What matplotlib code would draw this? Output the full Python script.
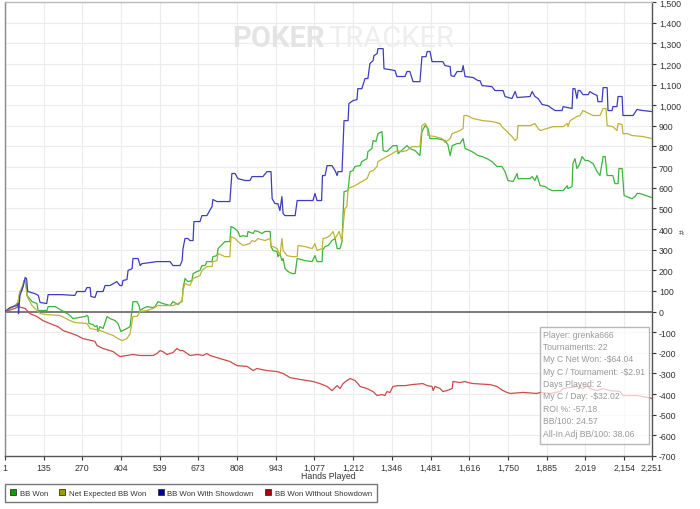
import numpy as np
import matplotlib
matplotlib.use("Agg")
import matplotlib.pyplot as plt
from matplotlib.lines import Line2D
from matplotlib.ticker import FuncFormatter

plt.rcParams["font.family"] = ["Liberation Sans", "DejaVu Sans"]

# hands played / cumulative big blinds
blue_hands = [1, 18, 42, 47, 48, 53, 65, 71, 76, 80, 105, 117, 123, 146, 151, 199, 244, 251, 279, 286,
              297, 300, 314, 321, 342, 349, 366, 390, 401, 408, 411, 425, 429, 443, 446, 464, 471, 477,
              530, 575, 585, 610, 617, 620, 627, 637, 644, 655, 658, 679, 686, 703, 721, 724, 738, 783,
              790, 801, 811, 836, 853, 860, 898, 912, 926, 930, 940, 950, 957, 964, 968, 975, 1010, 1017,
              1072, 1079, 1086, 1102, 1105, 1114, 1121, 1138, 1149, 1156, 1159, 1173, 1180, 1194, 1197,
              1211, 1225, 1228, 1242, 1253, 1263, 1270, 1281, 1284, 1295, 1298, 1316, 1319, 1357, 1364,
              1392, 1399, 1409, 1420, 1444, 1451, 1465, 1469, 1479, 1486, 1524, 1531, 1549, 1552, 1563,
              1573, 1590, 1594, 1601, 1629, 1646, 1653, 1660, 1694, 1705, 1733, 1740, 1764, 1775, 1782,
              1827, 1834, 1844, 1855, 1869, 1889, 1903, 1914, 1938, 1942, 1973, 1976, 1983, 1990, 1994,
              2001, 2011, 2029, 2035, 2046, 2060, 2063, 2077, 2081, 2095, 2098, 2112, 2115, 2129, 2133,
              2147, 2150, 2185, 2199, 2220, 2251]
blue_vals = [0, 19, 29, 39, -10, 78, 126, 165, 160, 97, 87, 78, 44, 39, 82, 82, 78, 97, 97, 116,
             116, 73, 68, 97, 97, 126, 126, 145, 126, 126, 150, 155, 199, 208, 257, 257, 223, 232,
             242, 242, 223, 223, 247, 305, 354, 354, 344, 344, 436, 436, 465, 465, 509, 543, 533, 533,
             669, 669, 644, 635, 635, 654, 654, 678, 678, 547, 523, 523, 489, 557, 475, 465, 465, 538,
             538, 572, 538, 538, 659, 659, 707, 707, 683, 659, 678, 678, 925, 925, 1008,
             1022, 1027, 1080, 1080, 1129, 1129, 1202, 1216, 1240, 1250, 1274, 1274, 1177, 1168, 1139,
             1139, 1163, 1163, 1114, 1114, 1235, 1235, 1260, 1260, 1211, 1211, 1192, 1187, 1143, 1139,
             1163, 1163, 1192, 1139, 1134, 1119, 1119, 1095, 1090, 1071, 1071, 1042, 1032, 1066, 1037,
             1042, 1066, 1042, 1032, 1003, 998, 984, 974, 974, 993, 984, 1080, 1080, 1032, 1071,
             1071, 1051, 1051, 1066, 1056, 1047, 1017, 1017, 1085, 1085, 974, 974, 993, 993, 1042,
             1042, 950, 950, 979, 974, 969]

green_hands = [1, 18, 36, 46, 53, 60, 67, 74, 78, 95, 112, 116, 147, 151, 175, 199, 217, 227, 237, 279,
               286, 290, 293, 307, 314, 321, 324, 331, 342, 356, 366, 384, 394, 404, 411, 425, 436, 446,
               460, 467, 471, 481, 495, 516, 523, 533, 550, 575, 585, 603, 617, 620, 627, 637, 651, 655,
               669, 679, 686, 697, 703, 721, 724, 738, 742, 766, 783, 787, 801, 811, 818, 829, 843, 846,
               864, 870, 881, 895, 905, 923, 926, 933, 947, 950, 957, 964, 968, 975, 985, 999, 1010, 1017,
               1044, 1069, 1079, 1086, 1104, 1105, 1114, 1125, 1138, 1149, 1156, 1166, 1173, 1180, 1194,
               1201, 1211, 1218, 1236, 1242, 1260, 1263, 1277, 1281, 1291, 1298, 1312, 1316, 1329, 1350,
               1364, 1368, 1399, 1409, 1427, 1444, 1451, 1462, 1472, 1479, 1503, 1531, 1541, 1549, 1556,
               1573, 1583, 1594, 1601, 1625, 1646, 1660, 1677, 1694, 1712, 1729, 1740, 1750, 1768, 1782,
               1785, 1827, 1834, 1844, 1851, 1862, 1879, 1889, 1903, 1942, 1956, 1959, 1973, 1976, 1983,
               1990, 1997, 2008, 2018, 2029, 2046, 2060, 2070, 2081, 2088, 2095, 2115, 2122, 2133, 2136,
               2147, 2154, 2181, 2192, 2199, 2209, 2251]
green_vals = [0, 15, 29, 44, 97, 102, 150, 136, 78, 48, 39, 5, 5, 24, 24, 5, -10, -19, -34, -24,
              -19, -24, -58, -63, -73, -68, -97, -73, -82, -24, -34, -44, -58, -97, -92, -82, -73, 48,
              48, 29, 5, 15, 24, 19, 24, 48, 39, 29, 48, 34, 53, 111, 160, 145, 150, 184,
              194, 199, 223, 223, 242, 242, 266, 271, 305, 339, 339, 412, 402, 388, 363, 368, 363, 388,
              378, 392, 388, 378, 388, 388, 315, 296, 291, 266, 281, 247, 257, 208, 194, 184, 184, 257,
              247, 242, 271, 242, 242, 296, 315, 320, 344, 354, 305, 305, 339, 581, 586,
              678, 683, 703, 707, 727, 741, 775, 790, 829, 824, 862, 872, 780, 775, 804,
              804, 765, 804, 790, 780, 756, 872, 901, 887, 838, 838, 829, 809, 756, 804,
              814, 814, 838, 790, 775, 756, 751, 741, 727, 703, 703, 678, 635, 630, 669,
              644, 644, 654, 635, 659, 610, 606, 596, 586, 586, 610, 596, 606, 717, 741,
              693, 707, 751, 732, 732, 717, 678, 659, 751, 751, 659, 659, 620, 620, 693,
              693, 562, 547, 557, 572, 572, 552]

yellow_hands = [1, 18, 36, 46, 53, 71, 78, 95, 112, 123, 147, 192, 199, 227, 244, 286, 297, 331, 342, 359,
                377, 394, 408, 425, 436, 443, 446, 460, 471, 495, 516, 533, 585, 617, 620, 627, 644, 655,
                679, 686, 703, 721, 724, 738, 742, 766, 783, 787, 801, 811, 829, 853, 860, 870, 881, 905,
                923, 926, 933, 947, 957, 964, 968, 982, 999, 1017, 1020, 1044, 1069, 1079, 1086, 1104,
                1107, 1121, 1131, 1142, 1149, 1163, 1173, 1177, 1183, 1190, 1194, 1218, 1242, 1260, 1270,
                1281, 1295, 1298, 1316, 1329, 1347, 1364, 1382, 1399, 1416, 1444, 1451, 1462, 1469, 1472,
                1496, 1521, 1531, 1549, 1556, 1583, 1594, 1597, 1608, 1629, 1663, 1698, 1722, 1729, 1747,
                1764, 1775, 1782, 1785, 1827, 1844, 1855, 1862, 1896, 1907, 1942, 1956, 1959, 1966, 1990,
                2001, 2011, 2025, 2046, 2070, 2081, 2091, 2095, 2115, 2129, 2133, 2147, 2150, 2167, 2181,
                2220, 2251]
yellow_vals = [0, 15, 29, 44, 97, 155, 73, 29, 5, -10, -15, -19, -24, -44, -53, -58, -82, -92, -97, -107,
               -116, -131, -141, -131, -107, -48, -24, -24, 0, 5, 15, 29, 29, 48, 102, 136, 126, 160,
               174, 199, 218, 218, 242, 247, 281, 266, 266, 363, 354, 339, 320, 330, 344, 339, 354, 344,
               354, 315, 315, 305, 271, 354, 296, 271, 266, 266, 320, 315, 305, 329, 296, 305,
               354, 359, 368, 388, 354, 388, 339, 417, 499, 509, 596, 610, 630, 644, 678,
               683, 703, 727, 741, 751, 765, 780, 775, 780, 799, 799, 901, 911, 896, 853,
               848, 838, 819, 838, 862, 877, 887, 950, 950, 935, 925, 920, 911, 896, 872,
               848, 829, 838, 901, 901, 911, 887, 877, 891, 896, 896, 911, 896, 925, 945,
               950, 974, 964, 950, 950, 984, 984, 901, 896, 877, 911, 906, 862, 862, 853,
               848, 838]

red_hands = [1, 36, 46, 71, 88, 112, 133, 157, 185, 203, 234, 251, 272, 304, 314, 321, 342, 377, 390, 401,
             425, 446, 471, 516, 530, 540, 550, 564, 575, 585, 599, 610, 620, 634, 644, 672, 690, 703,
             714, 749, 783, 808, 843, 864, 877, 912, 947, 968, 992, 1027, 1072, 1096, 1121, 1138, 1156,
             1166, 1177, 1190, 1201, 1218, 1228, 1236, 1260, 1281, 1295, 1312, 1322, 1329, 1340, 1350,
             1368, 1392, 1416, 1454, 1469, 1486, 1490, 1496, 1514, 1524, 1538, 1556, 1559, 1583, 1601,
             1611, 1629, 1688, 1712, 1722, 1733, 1747, 1757, 1803, 1851, 1862, 1896, 1931, 1942, 1966,
             1990, 2011, 2025, 2035, 2060, 2081, 2105, 2140, 2150, 2199, 2220, 2251]
red_vals = [0, 15, 24, 15, -10, -24, -44, -58, -73, -92, -107, -116, -131, -141, -145, -165, -179, -194, -208, -218,
            -213, -208, -213, -213, -203, -189, -194, -208, -203, -199, -179, -189, -189, -203, -213, -208, -213, -203,
            -213, -228, -242, -262, -266, -286, -276, -286, -291, -300, -320, -329, -339, -349, -363, -383, -359,
            -373, -349, -334, -325, -334, -349, -363, -373, -388, -407, -402, -407, -388, -392, -363,
            -359, -359, -354, -349, -359, -363, -383, -363, -373, -388, -383, -373, -339, -344, -339,
            -344, -349, -354, -363, -373, -383, -392, -397, -392, -397, -392, -397, -388, -373, -368,
            -363, -373, -359, -373, -383, -373, -383, -388, -407, -407, -412, -421]

x_ticks = [1, 135, 270, 404, 539, 673, 808, 943, 1077, 1212, 1346, 1481, 1616, 1750, 1885, 2019, 2154, 2251]
series_names = ["BB Won", "Net Expected BB Won", "BB Won With Showdown", "BB Won Without Showdown"]
line_colors = ["#3cb43c", "#bfb33a", "#3c3cc0", "#cc4a4a"]
marker_colors = ["#00a000", "#a09a00", "#0000a0", "#a00000"]
stats = ["Player: grenka666", "Tournaments: 22", "My C Net Won: -$64.04", "My C / Tournament: -$2.91",
         "Days Played: 2", "My C / Day: -$32.02", "ROI %: -57.18", "BB/100: 24.57", "All-In Adj BB/100: 38.06"]

W, H = 700, 510
fig = plt.figure(figsize=(7.0, 5.1), dpi=100)
fig.patch.set_facecolor("white")
ax = fig.add_axes([5 / W, 53 / H, 647 / W, 454 / H])

ax.set_xlim(1, 2251)
ax.set_ylim(-700, 1500)
ax.set_xticks(x_ticks)
ax.set_xticklabels([f"{t:,}" for t in x_ticks])
ax.set_yticks(np.arange(-700, 1501, 100))
ax.yaxis.set_major_formatter(FuncFormatter(lambda v, p: f"{int(v):,}"))
ax.yaxis.tick_right()
ax.tick_params(axis="both", labelsize=6.3, colors="#333333", length=3, width=0.8, pad=2)
ax.grid(True, color="#ececec", lw=0.8)
ax.set_axisbelow(True)
for side, col in [("left", "#888888"), ("top", "#bbbbbb"), ("right", "#555555"), ("bottom", "#555555")]:
    ax.spines[side].set_color(col)
    ax.spines[side].set_linewidth(1.0)

ax.axhline(0, color="#7a7a7a", lw=1.4, zorder=2)

# watermark
ax.text(320 / 647, 1 - 36 / 454, "POKER", transform=ax.transAxes, ha="right", va="center",
        fontsize=21, fontweight="bold", family="Roboto", color="#e4e4e4", zorder=1)
ax.text(323 / 647, 1 - 36 / 454, "TRACKER", transform=ax.transAxes, ha="left", va="center",
        fontsize=21, family="Roboto", color="#eeeeee", zorder=1)

ax.plot(red_hands, red_vals, color=line_colors[3], lw=0.9, zorder=3)
ax.plot(green_hands, green_vals, color=line_colors[0], lw=0.9, zorder=4)
ax.plot(yellow_hands, yellow_vals, color=line_colors[1], lw=0.9, zorder=4)
ax.plot(blue_hands, blue_vals, color=line_colors[2], lw=0.9, zorder=4)

# stats box
box = plt.Rectangle((540 / W, 1 - 445 / H), 109 / W, 117 / H, transform=fig.transFigure,
                    facecolor="white", alpha=0.7, edgecolor="#999999", lw=1.0, zorder=10)
fig.patches.append(box)
for i, s in enumerate(stats):
    fig.text(543 / W, 1 - (335 + i * 12.4) / H, s, fontsize=6.2,
             color="#999999", va="center", zorder=11)

fig.text(328 / W, 1 - 477 / H, "Hands Played", fontsize=6.3, color="#333333", ha="center", va="center")
fig.text(683 / W, 1 - 232 / H, "#", fontsize=6, color="#333333", rotation=90, ha="center", va="center")

handles = [Line2D([], [], ls="none", marker="s", markersize=5, markerfacecolor=c,
                  markeredgecolor="#333333", markeredgewidth=0.6) for c in marker_colors]
leg = fig.legend(handles, series_names, loc="lower left", bbox_to_anchor=(5 / W, 7 / H),
                 ncol=4, fontsize=5.6, frameon=True, fancybox=False, borderaxespad=0,
                 handlelength=0.7, handletextpad=0.5, columnspacing=1.5, borderpad=0.7)
leg.get_frame().set_edgecolor("#555555")
leg.get_frame().set_linewidth(1.0)
for t in leg.get_texts():
    t.set_color("#333333")

fig.savefig("out.png", dpi=100)
